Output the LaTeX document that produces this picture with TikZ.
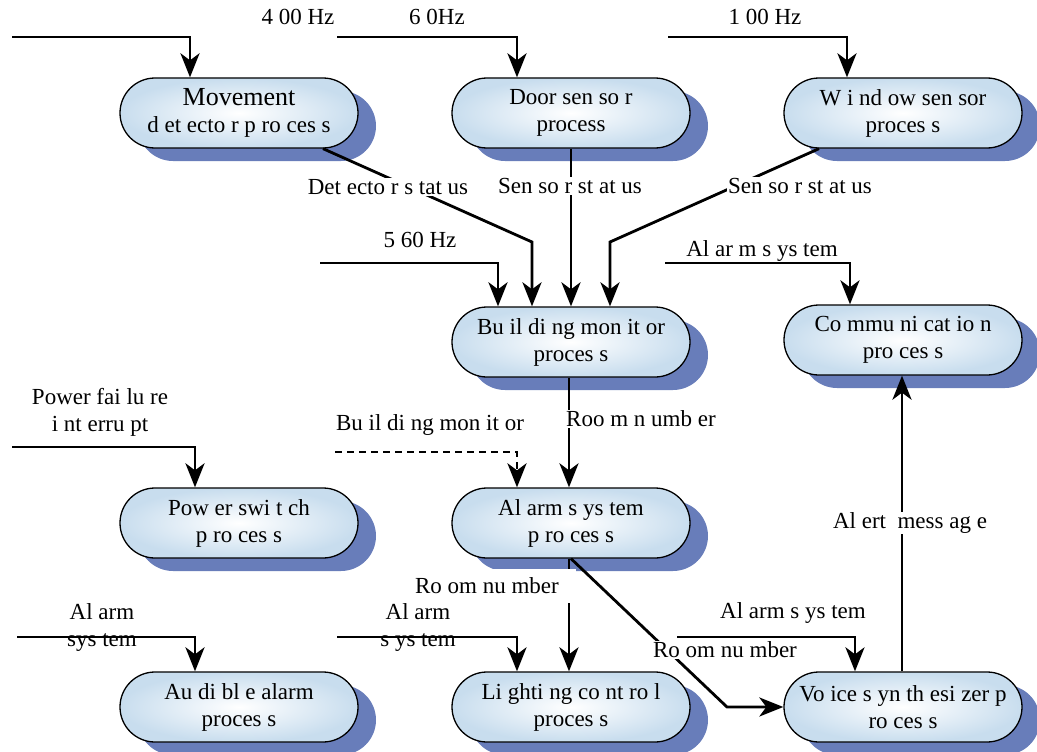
\documentclass[tikz,border=0pt]{standalone}
\usepackage{fontspec}
\setmainfont{Liberation Serif}
\usetikzlibrary{shapes.misc,shadows,arrows.meta,calc}
\definecolor{shadowblue}{RGB}{104,125,186}
\definecolor{nodeblue}{RGB}{200,221,238}
\begin{document}
\begin{tikzpicture}[x=1pt,y=-1pt,
  proc/.style={rounded rectangle, draw, line width=1.3pt, minimum width=242pt, minimum height=70pt,
    inner color=white, outer color=nodeblue, align=center, inner sep=2pt,
    general shadow={fill=shadowblue, shadow xshift=18pt, shadow yshift=-13pt},
    font=\fontsize{23}{27}\selectfont},
  lbl/.style={align=center, inner sep=1pt, font=\fontsize{23}{27}\selectfont},
  wl/.style={lbl, fill=white},
  arr/.style={draw, line width=2.8pt, -{Stealth[length=24pt,width=19pt,inset=7pt]}}]
\useasboundingbox (0,0) rectangle (1037,752);

% processes
\node[proc] (mov) at (239,113) {{\fontsize{26}{27}\selectfont Movement}\\d et ecto r p ro ces s};
\node[proc] (door) at (571,113) {Door sen so r\\process};
\node[proc] (win) at (903,113) {W i nd ow sen sor\\proces s};
\node[proc] (bld) at (571,342) {Bu il di ng mon it or\\proces s};
\node[proc] (com) at (903,340) {Co mmu ni cat io n\\pro ces s};
\node[proc] (pow) at (239,523) {Pow er swi t ch\\p ro ces s};
\node[proc] (alm) at (571,523) {Al arm s ys tem\\p ro ces s};
\node[proc] (aud) at (239,707) {Au di bl e alarm\\proces s};
\node[proc] (lig) at (571,707) {Li ghti ng co nt ro l\\proces s};
\node[proc] (voi) at (903,707) {Vo ice s yn th esi zer p\\ro ces s};

% free ends
\coordinate (s400) at (12,37);
\coordinate (s60) at (337,37);
\coordinate (s100) at (668,37);
\coordinate (s560) at (320,263);
\coordinate (sals) at (665,263);
\coordinate (spf) at (12,447);
\coordinate (sbm) at (335,452);
\coordinate (sal1) at (17,637);
\coordinate (sal2) at (337,637);
\coordinate (sal3) at (677,637);
\coordinate (k1) at (532,242);
\coordinate (k3) at (610,242);
\coordinate (k4) at (727,707);

% connectors
\draw[arr] (s400) -| ([xshift=-49pt]mov.north);
\draw[arr] (s60) -| ([xshift=-54pt]door.north);
\draw[arr] (s100) -| ([xshift=-56pt]win.north);
\draw[arr] (mov.south east) -- (k1) -- (k1 |- bld.north);
\draw[arr] (door.south) -- (bld.north);
\draw[arr] (win.south west) -- (k3) -- (k3 |- bld.north);
\draw[arr] (s560) -| ([xshift=-73pt]bld.north);
\draw[arr] (sals) -| ([xshift=-53pt]com.north);
\draw[arr] ([xshift=-2pt]bld.south) -- ([xshift=-2pt]alm.north);
\draw[arr, dashed, dash pattern=on 7pt off 5pt] (sbm) -| ([xshift=-54pt]alm.north);
\draw[arr] (spf) -| ([xshift=-44pt]pow.north);
\draw[arr] ([xshift=-2pt]alm.south) -- ([xshift=-2pt]lig.north);
\draw[arr] (alm.south) -- (k4) -- (voi.west);
\draw[arr] (sal3) -| ([xshift=-48pt]voi.north);
\draw[arr] ([xshift=-1pt]voi.north) -- ([xshift=-1pt]com.south);
\draw[arr] (sal1) -| ([xshift=-44pt]aud.north);
\draw[arr] (sal2) -| ([xshift=-54pt]lig.north);

% labels
\node[lbl] (l400) at (298,17) {4 00 Hz};
\node[lbl] (l60) at (437,17) {6 0Hz};
\node[lbl] (l100) at (765,17) {1 00 Hz};
\node[wl] (ldet) at (388,187) {Det ecto r s tat us};
\node[wl] (lss1) at (570,186) {Sen so r st at us};
\node[wl] (lss2) at (800,186) {Sen so r st at us};
\node[lbl] (l560) at (420,240) {5 60 Hz};
\node[lbl] (lals) at (762,251) {Al ar m s ys tem};
\node[lbl] (lpf) at (100,412) {Power fai lu re\\i nt erru pt};
\node[lbl] (lbm) at (430,425) {Bu il di ng mon it or};
\node[wl, anchor=west] (lrn1) at (565,419) {Roo m n umb er};
\node[wl] (lam) at (910,523) {Al ert \ mess ag e};
\node[wl, anchor=east, minimum height=34pt] (lrn2) at (576,586) {Ro om nu mber\hspace{16pt}};
\node[lbl] (lal1) at (102,627) {Al arm\\sys tem};
\node[lbl] (lal2) at (418,627) {Al arm\\s ys tem};
\node[lbl] (lal3) at (793,613) {Al arm s ys tem};
\node[wl] (lrn3) at (725,650) {Ro om nu mber};
\end{tikzpicture}
\end{document}
